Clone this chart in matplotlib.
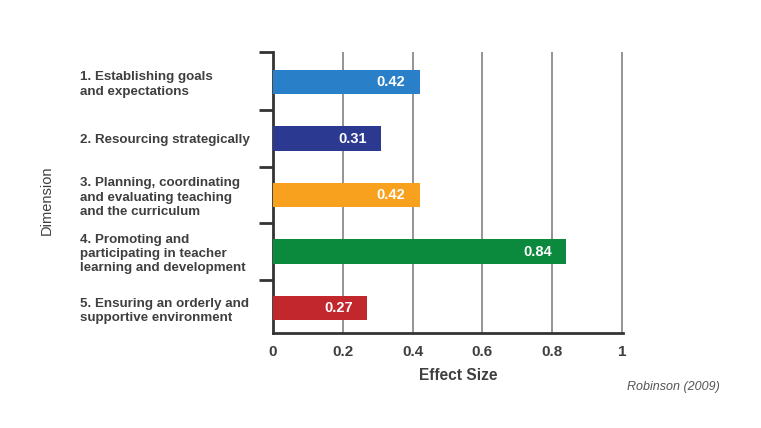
import matplotlib
matplotlib.use("Agg")
import matplotlib.pyplot as plt
import numpy as np

# effect sizes per leadership dimension (Robinson 2009)
dimensions = [
    "1. Establishing goals\nand expectations",
    "2. Resourcing strategically",
    "3. Planning, coordinating\nand evaluating teaching\nand the curriculum",
    "4. Promoting and\nparticipating in teacher\nlearning and development",
    "5. Ensuring an orderly and\nsupportive environment",
]
effect_sizes = [0.42, 0.31, 0.42, 0.84, 0.27]
value_labels = ["0.42", "0.31", "0.42", "0.84", "0.27"]
bar_colors = ["#2a7fc9", "#2b3990", "#f7a11f", "#0b8a3e", "#c1272d"]
xticks = [0, 0.2, 0.4, 0.6, 0.8, 1]
xtick_labels = ["0", "0.2", "0.4", "0.6", "0.8", "1"]

plt.rcParams["font.family"] = ["Liberation Sans", "DejaVu Sans"]
dark = "#3f3f3f"

fig = plt.figure(figsize=(7.61, 4.28), dpi=100)
ax = fig.add_axes([273/761, 1 - 333/428, 350/761, 281/428])

ypos = np.arange(len(dimensions))
ax.barh(ypos, effect_sizes, height=0.43, color=bar_colors, zorder=3)

for y, v, lab in zip(ypos, effect_sizes, value_labels):
    ax.text(v - 0.04, y, lab, ha="right", va="center", color="white",
            fontsize=10.5, fontweight="bold", zorder=4)

ax.set_xlim(0, 1.003)
ax.set_ylim(4.44, -0.53)

ax.set_xticks(xticks)
ax.set_xticklabels(xtick_labels, fontsize=11, fontweight="bold", color=dark)
ax.tick_params(axis="x", length=0, pad=9)
ax.xaxis.grid(True, color="#777777", linewidth=1.1, zorder=0)

ax.set_yticks(ypos)
ax.set_yticklabels(dimensions, fontsize=9.6, fontweight="bold", color=dark,
                   ha="left", linespacing=1.25)
ax.tick_params(axis="y", length=0, pad=139)
ax.set_yticks([-0.53, 0.5, 1.5, 2.5, 3.5], minor=True)
ax.tick_params(axis="y", which="minor", length=10, width=2, color="#333333")

for s in ["top", "right"]:
    ax.spines[s].set_visible(False)
for s in ["left", "bottom"]:
    ax.spines[s].set_color("#333333")
    ax.spines[s].set_linewidth(2)

fig.text(458/761, 1 - 375/428, "Effect Size", ha="center", va="center",
         fontsize=11.2, fontweight="bold", color=dark)
fig.text(47/761, 1 - 200/428, "Dimension", ha="center", va="center",
         rotation=90, fontsize=10.5, color=dark)
fig.text(720/761, 1 - 387/428, "Robinson (2009)", ha="right", va="center",
         fontsize=9, style="italic", color="#555555")

fig.savefig("out.png", dpi=100)
